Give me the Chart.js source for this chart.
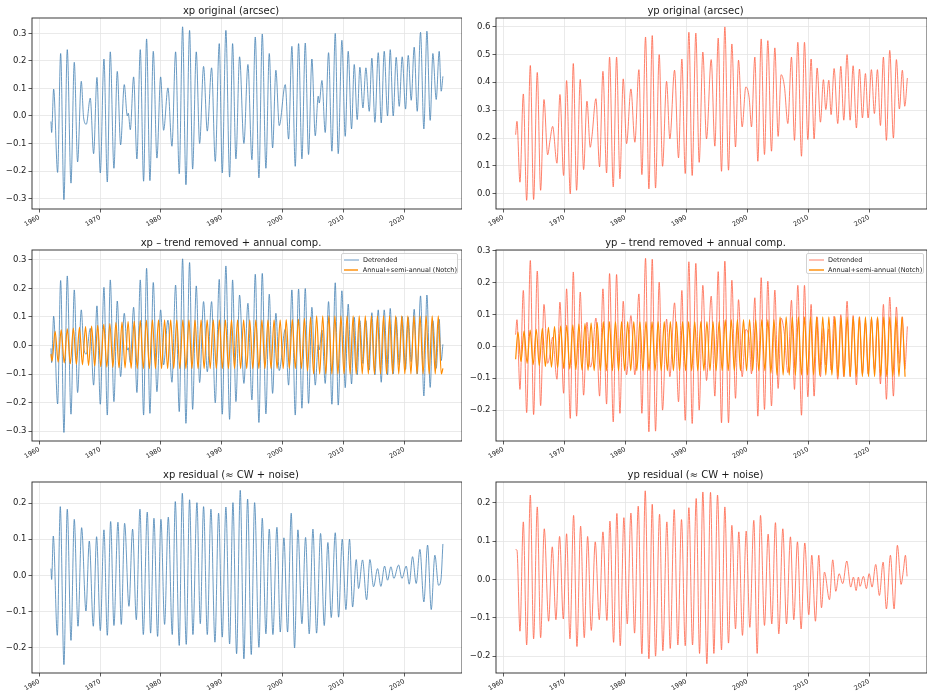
<!DOCTYPE html>
<html>
<head>
<meta charset="utf-8">
<script src="https://cdn.jsdelivr.net/npm/chart.js@4.4.1/dist/chart.umd.min.js"></script>
<style>
  body { margin: 0; background: #fff; font-family: "DejaVu Sans", sans-serif; }
  #page { position: relative; width: 934px; height: 697px; overflow: hidden; }
  .panel { position: absolute; }
  .legend { position: absolute; top: 253px; height: 21px; box-sizing: border-box; border: 0.8px solid #d2d2d2;
            border-radius: 2px; background: rgba(255,255,255,0.8); font-size: 6.5px; color: #222; padding: 0.5px 0 0 1.5px; }
  .legend .row { height: 10px; line-height: 10px; display: flex; align-items: center; white-space: nowrap; }
  .legend svg { display: block; margin-right: 4.5px; }
</style>
</head>
<body>
<div id="page">
  <div class="panel" style="left:0;top:0;width:462px;height:233px"><canvas id="p1"></canvas></div>
  <div class="panel" style="left:464px;top:0;width:463px;height:233px"><canvas id="p2"></canvas></div>
  <div class="panel" style="left:0;top:232px;width:462px;height:233px"><canvas id="p3"></canvas></div>
  <div class="panel" style="left:464px;top:232px;width:463px;height:233px"><canvas id="p4"></canvas></div>
  <div class="panel" style="left:0;top:464px;width:462px;height:233px"><canvas id="p5"></canvas></div>
  <div class="panel" style="left:464px;top:464px;width:463px;height:233px"><canvas id="p6"></canvas></div>

  <div class="legend" style="left:341px;width:117px">
    <div class="row"><svg width="15" height="4"><line x1="0" y1="2" x2="15" y2="2" stroke="rgb(160,190,218)" stroke-width="1.6"/></svg>Detrended</div>
    <div class="row"><svg width="15" height="4"><line x1="0" y1="2" x2="15" y2="2" stroke="#ff8c00" stroke-width="1.4"/></svg>Annual+semi-annual (Notch)</div>
  </div>
  <div class="legend" style="left:806px;width:118px">
    <div class="row"><svg width="15" height="4"><line x1="0" y1="2" x2="15" y2="2" stroke="rgb(255,176,160)" stroke-width="1.6"/></svg>Detrended</div>
    <div class="row"><svg width="15" height="4"><line x1="0" y1="2" x2="15" y2="2" stroke="#ff8c00" stroke-width="1.4"/></svg>Annual+semi-annual (Notch)</div>
  </div>
</div>

<script>
// ── Data (turning points, decimal years / arcsec) ────────────────────────────

const yearTicks = [1960, 1970, 1980, 1990, 2000, 2010, 2020];

// xp original + detrended share the same sample times
const xpT = [1961.92, 1962.03, 1962.36, 1963.01, 1963.51, 1964.05, 1964.60, 1965.21, 1965.75, 1966.30,
  1966.90, 1967.29, 1967.73, 1968.38, 1968.93, 1969.48, 1970.03, 1970.63, 1971.18, 1971.67,
  1972.27, 1972.82, 1973.37, 1973.97, 1974.47, 1974.63, 1974.96, 1975.51, 1976.05, 1976.60,
  1977.15, 1977.64, 1978.19, 1978.74, 1979.34, 1979.95, 1980.44, 1981.15, 1981.81, 1982.41,
  1983.01, 1983.56, 1984.11, 1984.71, 1985.21, 1985.81, 1986.36, 1987.01, 1987.62, 1988.33,
  1988.93, 1989.59, 1990.08, 1990.68, 1991.29, 1991.78, 1992.33, 1992.93, 1993.64, 1994.30,
  1994.96, 1995.51, 1996.11, 1996.66, 1997.26, 1997.81, 1998.36, 1998.90, 1999.45, 2000.44,
  2000.99, 2001.53, 2002.08, 2002.63, 2003.18, 2003.73, 2004.27, 2004.82, 2005.37, 2005.86,
  2006.03, 2006.47, 2007.01, 2007.56, 2008.11, 2008.66, 2009.15, 2009.75, 2010.30, 2010.79,
  2011.34, 2011.78, 2012.27, 2012.71, 2013.21, 2013.70, 2014.25, 2014.68, 2015.18, 2015.73,
  2016.22, 2016.71, 2017.26, 2017.70, 2018.19, 2018.68, 2019.18, 2019.67, 2020.22, 2020.66,
  2021.15, 2021.64, 2022.14, 2022.68, 2023.23, 2023.73, 2024.27, 2024.71, 2025.26, 2025.75,
  2026.08, 2026.36];

const xpOrig = [-0.02, -0.06, 0.098, -0.205, 0.227, -0.304, 0.241, -0.244, 0.195, -0.167,
  0.126, -0.007, -0.03, 0.065, -0.137, 0.14, -0.207, 0.207, -0.24, 0.233,
  -0.19, 0.162, -0.105, 0.114, 0.0, 0.01, -0.05, 0.142, -0.156, 0.241,
  -0.237, 0.28, -0.235, 0.235, -0.153, 0.142, -0.052, 0.102, -0.11, 0.233,
  -0.21, 0.324, -0.25, 0.311, -0.193, 0.233, -0.1, 0.18, -0.055, 0.175,
  -0.165, 0.263, -0.207, 0.311, -0.222, 0.263, -0.156, 0.215, -0.1, 0.187,
  -0.159, 0.287, -0.225, 0.298, -0.19, 0.227, -0.116, 0.166, -0.035, 0.114,
  -0.084, 0.253, -0.183, 0.263, -0.156, 0.265, -0.14, 0.207, -0.072, 0.072,
  0.047, 0.129, -0.06, 0.23, -0.128, 0.3, -0.137, 0.275, -0.074, 0.235,
  -0.047, 0.187, -0.013, 0.177, 0.029, 0.175, 0.017, 0.21, -0.023, 0.23,
  -0.025, 0.235, 0.0, 0.241, 0.0, 0.213, 0.035, 0.215, 0.025, 0.22,
  0.057, 0.25, 0.017, 0.304, -0.047, 0.308, -0.016, 0.227, 0.06, 0.235,
  0.09, 0.144];

const xpDet = [-0.01, -0.06, 0.103, -0.205, 0.228, -0.305, 0.244, -0.241, 0.195, -0.165,
  0.125, -0.004, -0.03, 0.06, -0.139, 0.139, -0.206, 0.204, -0.244, 0.23,
  -0.197, 0.156, -0.109, 0.113, -0.016, -0.008, -0.06, 0.134, -0.165, 0.23,
  -0.244, 0.271, -0.238, 0.221, -0.162, 0.125, -0.068, 0.089, -0.129, 0.212,
  -0.232, 0.304, -0.273, 0.291, -0.224, 0.209, -0.13, 0.154, -0.092, 0.154,
  -0.201, 0.232, -0.241, 0.279, -0.259, 0.23, -0.197, 0.177, -0.133, 0.148,
  -0.191, 0.25, -0.27, 0.253, -0.24, 0.18, -0.168, 0.113, -0.088, 0.057,
  -0.139, 0.195, -0.244, 0.198, -0.22, 0.2, -0.203, 0.134, -0.139, 0.002,
  -0.015, 0.054, -0.133, 0.154, -0.206, 0.22, -0.209, 0.192, -0.148, 0.145,
  -0.135, 0.099, -0.103, 0.087, -0.063, 0.087, -0.086, 0.115, -0.103, 0.125,
  -0.129, 0.125, -0.103, 0.13, -0.1, 0.099, -0.068, 0.102, -0.084, 0.099,
  -0.057, 0.127, -0.1, 0.174, -0.177, 0.177, -0.147, 0.087, -0.08, 0.092,
  -0.053, 0.004];

// yp original + detrended share the same sample times
const ypT = [1962.02, 1962.24, 1962.73, 1963.28, 1963.83, 1964.43, 1964.97, 1965.57, 1966.12, 1966.67,
  1967.27, 1967.65, 1968.09, 1968.80, 1969.29, 1969.89, 1970.38, 1970.98, 1971.48, 1972.02,
  1972.62, 1973.17, 1973.72, 1974.26, 1974.54, 1975.19, 1975.79, 1976.34, 1976.94, 1977.43,
  1978.03, 1978.58, 1979.13, 1979.67, 1980.22, 1980.93, 1981.58, 1982.24, 1982.73, 1983.33,
  1983.88, 1984.43, 1984.97, 1985.57, 1986.12, 1986.78, 1987.32, 1988.09, 1988.74, 1989.29,
  1989.84, 1990.44, 1990.98, 1991.58, 1992.13, 1992.73, 1993.33, 1994.10, 1994.70, 1995.25,
  1995.79, 1996.34, 1996.94, 1997.49, 1998.09, 1998.58, 1999.18, 1999.78, 2000.33, 2000.71,
  2001.26, 2001.75, 2002.30, 2002.84, 2003.39, 2003.99, 2004.54, 2005.08, 2005.57, 2006.12,
  2006.67, 2007.27, 2007.76, 2008.31, 2008.91, 2009.40, 2009.95, 2010.49, 2010.98, 2011.48,
  2012.02, 2012.51, 2012.90, 2013.39, 2013.77, 2014.26, 2014.86, 2015.36, 2015.85, 2016.39,
  2016.89, 2017.38, 2017.92, 2018.42, 2018.91, 2019.40, 2019.84, 2020.38, 2020.87, 2021.37,
  2021.86, 2022.35, 2022.84, 2023.39, 2023.99, 2024.48, 2024.97, 2025.46, 2025.85, 2026.28];

const ypOrig = [0.212, 0.26, 0.042, 0.358, -0.023, 0.46, -0.02, 0.435, 0.013, 0.338,
  0.14, 0.19, 0.242, 0.11, 0.356, 0.066, 0.406, 0.0, 0.467, 0.013,
  0.41, 0.087, 0.332, 0.167, 0.206, 0.341, 0.097, 0.439, 0.075, 0.49,
  0.025, 0.49, 0.054, 0.412, 0.18, 0.376, 0.185, 0.445, 0.069, 0.562,
  0.018, 0.567, 0.021, 0.499, 0.099, 0.403, 0.197, 0.443, 0.129, 0.483,
  0.073, 0.579, 0.066, 0.576, 0.113, 0.508, 0.197, 0.481, 0.171, 0.558,
  0.081, 0.598, 0.085, 0.537, 0.168, 0.479, 0.24, 0.383, 0.344, 0.24,
  0.49, 0.117, 0.555, 0.141, 0.549, 0.153, 0.523, 0.206, 0.427, 0.383,
  0.252, 0.49, 0.192, 0.543, 0.135, 0.543, 0.195, 0.483, 0.197, 0.451,
  0.257, 0.409, 0.302, 0.407, 0.284, 0.449, 0.252, 0.457, 0.264, 0.499,
  0.264, 0.459, 0.236, 0.447, 0.272, 0.431, 0.272, 0.445, 0.288, 0.445,
  0.245, 0.49, 0.192, 0.514, 0.2, 0.481, 0.304, 0.443, 0.314, 0.415];

const ypDet = [0.037, 0.084, -0.135, 0.176, -0.208, 0.27, -0.214, 0.237, -0.186, 0.132,
  -0.053, -0.026, 0.029, -0.103, 0.139, -0.147, 0.181, -0.226, 0.234, -0.219,
  0.171, -0.153, 0.076, -0.065, -0.047, 0.089, -0.156, 0.181, -0.181, 0.229,
  -0.237, 0.226, -0.21, 0.142, -0.089, 0.097, -0.089, 0.165, -0.21, 0.277,
  -0.268, 0.274, -0.266, 0.202, -0.2, 0.086, -0.095, 0.137, -0.174, 0.176,
  -0.232, 0.266, -0.242, 0.261, -0.2, 0.192, -0.107, 0.158, -0.156, 0.235,
  -0.24, 0.268, -0.24, 0.208, -0.163, 0.147, -0.095, 0.053, 0.021, -0.086,
  0.153, -0.219, 0.216, -0.198, 0.205, -0.187, 0.177, -0.132, 0.089, 0.037,
  -0.082, 0.145, -0.135, 0.192, -0.216, 0.192, -0.158, 0.132, -0.156, 0.093,
  -0.095, 0.058, -0.058, 0.055, -0.074, 0.095, -0.103, 0.1, -0.095, 0.142,
  -0.095, 0.097, -0.121, 0.093, -0.086, 0.074, -0.086, 0.086, -0.072, 0.089,
  -0.118, 0.132, -0.166, 0.155, -0.156, 0.124, -0.053, 0.093, -0.072, 0.063];

// residuals (≈ Chandler wobble + noise)
const xpResT = [1961.92, 1962.03, 1962.30, 1962.96, 1963.45, 1964.05, 1964.60, 1965.21, 1965.75, 1966.36,
  1966.96, 1967.67, 1968.22, 1968.88, 1969.42, 1970.03, 1970.63, 1971.18, 1971.73, 1972.27,
  1972.93, 1973.48, 1974.03, 1974.74, 1975.34, 1975.95, 1976.55, 1977.10, 1977.75, 1978.30,
  1978.85, 1979.45, 1980.00, 1980.60, 1981.21, 1981.86, 1982.36, 1983.01, 1983.51, 1984.16,
  1984.71, 1985.26, 1985.92, 1986.47, 1987.01, 1987.62, 1988.22, 1988.88, 1989.48, 1990.08,
  1990.68, 1991.29, 1991.84, 1992.44, 1993.04, 1993.64, 1994.25,
  1994.85, 1995.40, 1996.11, 1996.66, 1997.26, 1997.81, 1998.41, 1999.07, 1999.62, 2000.22,
  2000.82, 2001.42, 2001.97, 2002.52, 2003.18, 2003.78, 2004.38, 2004.99, 2005.59, 2006.25,
  2006.85, 2007.45, 2008.00, 2008.66, 2009.21, 2009.81, 2010.41, 2011.01, 2011.51, 2012.11,
  2012.49, 2013.15, 2013.81, 2014.36, 2014.96, 2015.62, 2016.16, 2016.77, 2017.26, 2017.81,
  2018.30, 2019.07, 2019.62, 2020.33, 2020.82, 2021.37, 2021.97, 2022.58, 2023.23, 2023.84,
  2024.44, 2025.04, 2025.64, 2026.03, 2026.36];

const xpRes = [0.019, -0.011, 0.109, -0.165, 0.19, -0.246, 0.183, -0.179, 0.155, -0.14,
  0.132, -0.098, 0.095, -0.14, 0.107, -0.152, 0.126, -0.165, 0.149, -0.138,
  0.147, -0.135, 0.144, -0.085, 0.128, -0.122, 0.183, -0.163, 0.175, -0.159,
  0.158, -0.168, 0.155, -0.135, 0.161, -0.163, 0.204, -0.193, 0.227, -0.19,
  0.209, -0.163, 0.201, -0.133, 0.19, -0.163, 0.183, -0.184, 0.172, -0.17,
  0.189, -0.189, 0.201, -0.216, 0.235, -0.23, 0.211,
  -0.218, 0.201, -0.198, 0.158, -0.161, 0.128, -0.163, 0.133, -0.156, 0.104,
  -0.156, 0.172, -0.2, 0.126, -0.133, 0.105, -0.161, 0.128, -0.159, 0.116,
  -0.138, 0.091, -0.116, 0.118, -0.115, 0.1, -0.094, 0.1, -0.087, 0.044,
  -0.036, 0.043, -0.067, 0.044, -0.031, 0.019, -0.03, 0.026, -0.013, 0.024,
  -0.008, 0.029, -0.008, 0.026, -0.024, 0.052, -0.022, 0.072, -0.073, 0.084,
  -0.094, 0.056, -0.027, -0.013, 0.087];

const ypResT = [1962.02, 1962.24, 1962.73, 1963.28, 1963.83, 1964.43, 1964.97, 1965.57, 1966.12, 1966.72,
  1967.43, 1968.03, 1968.63, 1969.23, 1969.84, 1970.38, 1970.93, 1971.53, 1972.08, 1972.68,
  1973.28, 1973.83, 1974.43, 1975.08, 1975.74, 1976.34, 1976.99, 1977.49, 1978.09, 1978.63,
  1979.18, 1979.78, 1980.33, 1980.93, 1981.53, 1982.13, 1982.73, 1983.28, 1983.88, 1984.43,
  1984.97, 1985.63, 1986.17, 1986.83, 1987.38, 1988.03, 1988.63, 1989.23, 1989.84, 1990.44,
  1991.04, 1991.64, 1992.19, 1992.73, 1993.39, 1993.99, 1994.54, 1995.14,
  1995.79, 1996.34, 1996.94, 1997.49, 1998.09, 1998.63, 1999.23, 1999.84, 2000.44, 2001.09,
  2001.64, 2002.19, 2002.84, 2003.44, 2004.04, 2004.64, 2005.19, 2005.85, 2006.45, 2007.10,
  2007.65, 2008.25, 2008.85, 2009.45, 2010.11, 2010.60, 2011.20, 2011.75, 2012.19, 2012.68,
  2013.50, 2014.04, 2014.54, 2015.08, 2015.68, 2016.34, 2016.99, 2017.43, 2017.87, 2018.25,
  2018.52, 2019.07, 2019.56, 2020.00, 2020.49, 2021.09, 2021.69, 2022.30, 2022.84, 2023.50,
  2024.10, 2024.64, 2025.25, 2025.63, 2025.96, 2026.23];

const ypRes = [0.078, 0.076, -0.135, 0.15, -0.171, 0.22, -0.155, 0.189, -0.152, 0.132,
  -0.109, 0.085, -0.105, 0.112, -0.103, 0.119, -0.155, 0.167, -0.175, 0.139,
  -0.152, 0.112, -0.133, 0.098, -0.105, 0.124, -0.107, 0.152, -0.164, 0.172,
  -0.173, 0.161, -0.116, 0.173, -0.14, 0.191, -0.194, 0.231, -0.207, 0.196,
  -0.2, 0.17, -0.186, 0.15, -0.18, 0.182, -0.171, 0.156, -0.173, 0.187,
  -0.171, 0.211, -0.193, 0.228, -0.22, 0.227, -0.193, 0.22,
  -0.184, 0.189, -0.166, 0.141, -0.129, 0.124, -0.146, 0.126, -0.125, 0.154,
  -0.193, 0.167, -0.12, 0.118, -0.116, 0.148, -0.142, 0.132, -0.116, 0.111,
  -0.105, 0.098, -0.129, 0.095, -0.092, 0.063, -0.109, 0.063, -0.074, 0.019,
  -0.053, 0.051, -0.031, 0.015, -0.011, 0.048, -0.02, 0.006, -0.029, 0.006,
  -0.018, 0.008, -0.024, 0.015, -0.02, 0.039, -0.042, 0.045, -0.077, 0.063,
  -0.077, 0.089, -0.013, 0.024, 0.063, 0.008];

// annual + semi-annual (notch) component: one trough and one crest per year from 1962
const annYear0 = 1962;
const xpAnnTrough = [-0.055, -0.058, -0.061, -0.064, -0.066, -0.068, -0.070, -0.072, -0.074, -0.076,
  -0.077, -0.078, -0.079, -0.080, -0.081, -0.081, -0.081, -0.081, -0.081, -0.081,
  -0.081, -0.081, -0.081, -0.081, -0.081, -0.081, -0.081, -0.081, -0.081, -0.081,
  -0.081, -0.081, -0.081, -0.081, -0.081, -0.081, -0.081, -0.081, -0.081, -0.081,
  -0.081, -0.081, -0.090, -0.100, -0.100, -0.100, -0.100, -0.100, -0.100, -0.100,
  -0.100, -0.100, -0.100, -0.100, -0.100, -0.100, -0.100, -0.100, -0.100, -0.100,
  -0.100, -0.100, -0.100, -0.100, -0.100];
const xpAnnPeak = [0.050, 0.055, 0.058, 0.061, 0.064, 0.066, 0.068, 0.071, 0.074, 0.077,
  0.080, 0.082, 0.084, 0.086, 0.088, 0.089, 0.090, 0.090, 0.090, 0.090,
  0.090, 0.090, 0.090, 0.090, 0.090, 0.090, 0.090, 0.090, 0.090, 0.090,
  0.090, 0.090, 0.090, 0.090, 0.090, 0.090, 0.090, 0.090, 0.091, 0.092,
  0.093, 0.095, 0.100, 0.104, 0.104, 0.104, 0.104, 0.104, 0.104, 0.104,
  0.104, 0.104, 0.104, 0.104, 0.104, 0.104, 0.104, 0.104, 0.104, 0.104,
  0.104, 0.104, 0.104, 0.104];
const xpAnnEnds = [[1961.92, -0.03], [2026.36, -0.08]];

const ypAnnTrough = [-0.040, -0.048, -0.053, -0.057, -0.060, -0.063, -0.065, -0.067, -0.069, -0.071,
  -0.073, -0.074, -0.075, -0.076, -0.076, -0.076, -0.076, -0.076, -0.076, -0.076,
  -0.076, -0.076, -0.076, -0.076, -0.076, -0.076, -0.076, -0.076, -0.076, -0.076,
  -0.076, -0.076, -0.076, -0.076, -0.076, -0.076, -0.076, -0.076, -0.076, -0.076,
  -0.076, -0.076, -0.084, -0.090, -0.090, -0.090, -0.090, -0.090, -0.090, -0.090,
  -0.090, -0.090, -0.090, -0.095, -0.095, -0.095, -0.095, -0.095, -0.095, -0.095,
  -0.095, -0.095, -0.095, -0.095, -0.095];
const ypAnnPeak = [0.045, 0.048, 0.051, 0.054, 0.057, 0.060, 0.062, 0.064, 0.066, 0.068,
  0.070, 0.072, 0.074, 0.076, 0.078, 0.078, 0.078, 0.078, 0.078, 0.078,
  0.078, 0.078, 0.078, 0.078, 0.078, 0.078, 0.078, 0.078, 0.078, 0.078,
  0.078, 0.078, 0.078, 0.078, 0.084, 0.084, 0.084, 0.084, 0.084, 0.084,
  0.084, 0.084, 0.084, 0.093, 0.093, 0.093, 0.093, 0.093, 0.093, 0.093,
  0.093, 0.093, 0.093, 0.093, 0.093, 0.093, 0.093, 0.093, 0.093, 0.093,
  0.093, 0.093, 0.093, 0.093];
const ypAnnEnds = [[1962.02, -0.04], null];

// ── Rendering ─────────────────────────────────────────────────────────────────

const FONT = '"DejaVu Sans", sans-serif';
const BLUE = 'rgba(70,130,180,0.8)';
const RED = 'rgba(255,99,71,0.8)';
const ORANGE = '#ff8c00';

const pts = (t, v) => t.map((x, i) => ({ x, y: v[i] }));

function annualPts(troughs, peaks, tOff, pOff, ends) {
  const out = [];
  if (ends[0]) out.push({ x: ends[0][0], y: ends[0][1] });
  troughs.forEach((y, i) => {
    out.push({ x: annYear0 + i + tOff, y });
    if (i < peaks.length) out.push({ x: annYear0 + i + pOff, y: peaks[i] });
  });
  if (ends[1]) out.push({ x: ends[1][0], y: ends[1][1] });
  return out.filter(p => !ends[0] || p.x >= ends[0][0]);
}

const fmtTick = v => v.toFixed(1).replace('-', '\u2212');

const framePlugin = {
  id: 'frame',
  afterDatasetsDraw(chart) {
    const { ctx, chartArea: a } = chart;
    ctx.save();
    ctx.strokeStyle = '#262626';
    ctx.lineWidth = 0.9;
    ctx.strokeRect(a.left, a.top, a.right - a.left, a.bottom - a.top);
    ctx.restore();
  },
};

function line(data, color, width, order) {
  return {
    data, borderColor: color, borderWidth: width, order,
    pointRadius: 0, fill: false, cubicInterpolationMode: 'monotone',
  };
}

function makePanel(id, title, yMin, yMax, yTicks, datasets) {
  const grid = { color: '#e4e4e4', lineWidth: 0.8, tickColor: '#333', tickLength: 3.5, tickWidth: 0.8 };
  new Chart(document.getElementById(id), {
    type: 'line',
    data: { datasets },
    plugins: [framePlugin],
    options: {
      responsive: true,
      maintainAspectRatio: false,
      animation: false,
      events: [],
      layout: { padding: 0 },
      plugins: {
        legend: { display: false },
        tooltip: { enabled: false },
        title: {
          display: true, text: title, color: '#1a1a1a',
          font: { family: FONT, size: 10, weight: 'normal' },
          padding: { top: 5, bottom: 1 },
        },
      },
      scales: {
        x: {
          type: 'linear', min: 1958.8, max: 2029.5,
          afterBuildTicks: s => { s.ticks = yearTicks.map(v => ({ value: v })); },
          afterFit: s => { s.height = 24; },
          ticks: {
            minRotation: 30, maxRotation: 30, autoSkip: false, padding: 1,
            color: '#222', font: { family: FONT, size: 6.5 }, callback: v => String(v),
          },
          grid, border: { display: false },
        },
        y: {
          min: yMin, max: yMax,
          afterBuildTicks: s => { s.ticks = yTicks.map(v => ({ value: v })); },
          afterFit: s => { s.width = 32; },
          ticks: { padding: 2, color: '#222', font: { family: FONT, size: 8.5 }, callback: fmtTick },
          grid, border: { display: false },
        },
      },
    },
  });
}

makePanel('p1', 'xp original (arcsec)', -0.338, 0.356, [-0.3, -0.2, -0.1, 0, 0.1, 0.2, 0.3],
  [line(pts(xpT, xpOrig), BLUE, 1, 1)]);

makePanel('p2', 'yp original (arcsec)', -0.054, 0.630, [0, 0.1, 0.2, 0.3, 0.4, 0.5, 0.6],
  [line(pts(ypT, ypOrig), RED, 1, 1)]);

makePanel('p3', 'xp \u2013 trend removed + annual comp.', -0.335, 0.335, [-0.3, -0.2, -0.1, 0, 0.1, 0.2, 0.3],
  [line(pts(xpT, xpDet), BLUE, 1, 1),
   line(annualPts(xpAnnTrough, xpAnnPeak, 0.1, 0.6, xpAnnEnds), ORANGE, 1.2, 0)]);

makePanel('p4', 'yp \u2013 trend removed + annual comp.', -0.297, 0.303, [-0.2, -0.1, 0, 0.1, 0.2, 0.3],
  [line(pts(ypT, ypDet), RED, 1, 1),
   line(annualPts(ypAnnTrough, ypAnnPeak, -0.1, 0.4, ypAnnEnds), ORANGE, 1.2, 0)]);

makePanel('p5', 'xp residual (\u2248 CW + noise)', -0.269, 0.258, [-0.2, -0.1, 0, 0.1, 0.2],
  [line(pts(xpResT, xpRes), BLUE, 1, 1)]);

makePanel('p6', 'yp residual (\u2248 CW + noise)', -0.244, 0.254, [-0.2, -0.1, 0, 0.1, 0.2],
  [line(pts(ypResT, ypRes), RED, 1, 1)]);
</script>
</body>
</html>
